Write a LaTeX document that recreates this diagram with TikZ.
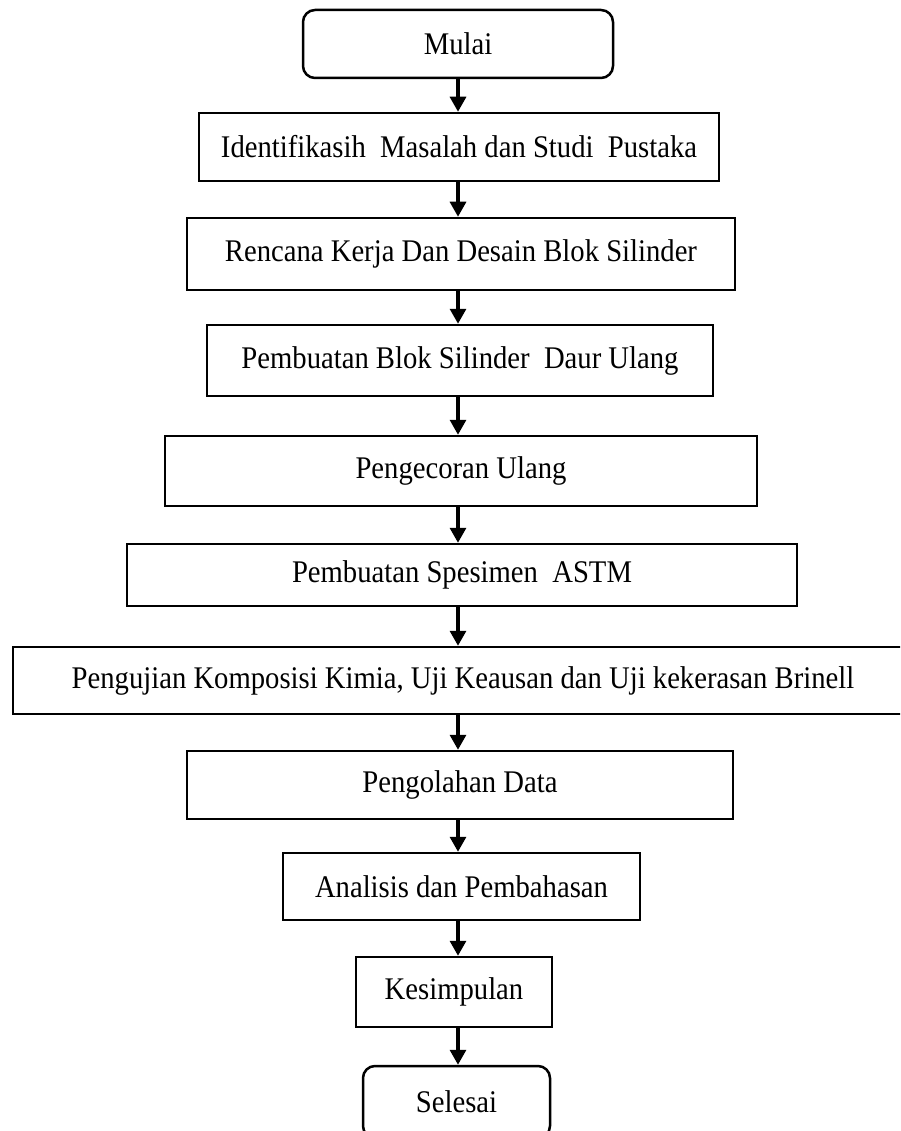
\documentclass[tikz,border=0pt]{standalone}
\usepackage{fontspec}
\setmainfont{Liberation Serif}[FakeStretch=0.91]
\usetikzlibrary{arrows.meta}
\begin{document}
\begin{tikzpicture}[x=1pt,y=-1pt,
  box/.style={draw, line width=2.5pt, inner sep=0pt, align=center, font=\fontsize{31.5}{34}\selectfont},
  term/.style={box, rounded corners=12pt},
  flow/.style={line width=3.2pt, -{Triangle[length=15pt,width=16pt]}}]
\useasboundingbox (0,0) rectangle (900,1131);
\clip (0,0) rectangle (900,1131);
\coordinate (ax) at (458,0);
\node[term, minimum width=310pt, minimum height=68pt] (n0) at (458,44) {Mulai};
\node[box, minimum width=520pt, minimum height=68pt] (n1) at (459,147) {Identifikasih\ \ Masalah dan Studi\ \ Pustaka};
\node[box, minimum width=548pt, minimum height=72pt] (n2) at (461,254) {Rencana Kerja Dan Desain Blok Silinder};
\node[box, minimum width=506pt, minimum height=71pt] (n3) at (460,360.5) {Pembuatan Blok Silinder\ \ Daur Ulang};
\node[box, minimum width=592pt, minimum height=70pt] (n4) at (461,471) {Pengecoran Ulang};
\node[box, minimum width=670pt, minimum height=62pt] (n5) at (462,575) {Pembuatan Spesimen\ \ ASTM};
\node[box, minimum width=900pt, minimum height=67pt] (n6) at (463,680.5) {Pengujian Komposisi\ Kimia,\ Uji\ Keausan dan Uji kekerasan Brinell};
\node[box, minimum width=546pt, minimum height=68pt] (n7) at (460,785) {Pengolahan Data};
\node[box, minimum width=357pt, minimum height=67pt] (n8) at (461.5,886.5) {Analisis dan Pembahasan};
\node[box, minimum width=196pt, minimum height=70pt] (n9) at (454,992) {Kesimpulan};
\node[term, minimum width=187pt, minimum height=72pt] (n10) at (456.5,1102) {Selesai};
\foreach \a/\b in {n0/n1,n1/n2,n2/n3,n3/n4,n4/n5,n5/n6,n6/n7,n7/n8,n8/n9,n9/n10}
  \draw[flow] (\a.south -| ax) -- (\b.north -| ax);
\end{tikzpicture}
\end{document}
